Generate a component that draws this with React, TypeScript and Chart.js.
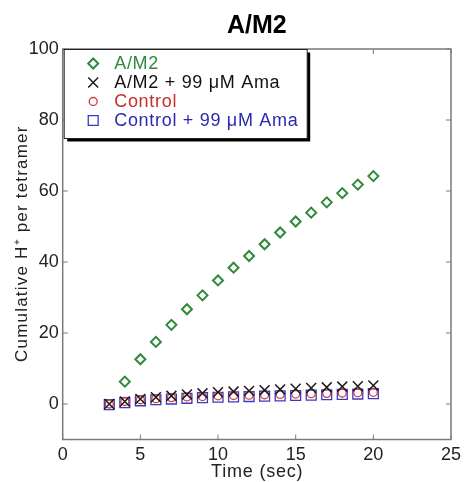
import React, { useEffect, useRef } from 'react';
import { Chart, registerables } from 'chart.js';

Chart.register(...registerables);

// ---- data ----
const timeAM2 = [4, 5, 6, 7, 8, 9, 10, 11, 12, 13, 14, 15, 16, 17, 18, 19, 20];
const am2 = [6.3, 12.6, 17.5, 22.3, 26.7, 30.6, 34.8, 38.4, 41.7, 45.0, 48.3, 51.4, 53.9, 56.8, 59.4, 61.8, 64.2];
const timeLow = [3, 4, 5, 6, 7, 8, 9, 10, 11, 12, 13, 14, 15, 16, 17, 18, 19, 20];
const am2Ama = [0.0, 0.7, 1.4, 1.9, 2.3, 2.7, 3.0, 3.3, 3.5, 3.7, 3.9, 4.1, 4.3, 4.5, 4.7, 4.9, 5.0, 5.2];
const control = [0.0, 0.7, 1.2, 1.5, 1.8, 2.0, 2.1, 2.3, 2.4, 2.5, 2.6, 2.7, 2.8, 2.9, 3.0, 3.1, 3.2, 3.3];
const controlAma = [-0.2, 0.4, 0.9, 1.2, 1.4, 1.6, 1.8, 1.9, 2.0, 2.1, 2.2, 2.3, 2.4, 2.5, 2.6, 2.7, 2.8, 2.9];
const xTicks = [0, 5, 10, 15, 20, 25];
const yTicks = [0, 20, 40, 60, 80, 100];
const seriesLabels = ['A/M2', 'A/M2 + 99 \u03BCM Ama', 'Control', 'Control + 99 \u03BCM Ama'];
const chartTitle = 'A/M2';
const xTitle = 'Time (sec)';
const yTitle = 'Cumulative H\u207A per tetramer';

const FONT = '"Liberation Sans", Arial, Helvetica, sans-serif';
const GREEN = '#2f8a3c';
const BLACK = '#1a1a1a';
const RED = '#d23c3c';
const BLUE = '#3a3ac0';
const TEXT_COLORS = [GREEN, '#111111', '#c4302a', '#2a2ab0'];

function drawMarker(ctx: CanvasRenderingContext2D, style: string, x: number, y: number, r: number, color: string, lw: number) {
  ctx.save();
  ctx.strokeStyle = color;
  ctx.lineWidth = lw;
  ctx.beginPath();
  if (style === 'rectRot') {
    ctx.moveTo(x - r, y);
    ctx.lineTo(x, y - r);
    ctx.lineTo(x + r, y);
    ctx.lineTo(x, y + r);
    ctx.closePath();
  } else if (style === 'crossRot') {
    const o = r * Math.SQRT1_2;
    ctx.moveTo(x - o, y - o);
    ctx.lineTo(x + o, y + o);
    ctx.moveTo(x - o, y + o);
    ctx.lineTo(x + o, y - o);
  } else if (style === 'circle') {
    ctx.arc(x, y, r, 0, Math.PI * 2);
  } else {
    const s = r * Math.SQRT1_2;
    ctx.rect(x - s, y - s, 2 * s, 2 * s);
  }
  ctx.stroke();
  ctx.restore();
}

const framePlugin = {
  id: 'frameTicks',
  beforeDatasetsDraw(chart: any) {
    const { ctx, chartArea } = chart;
    const { left, right, top, bottom } = chartArea;
    const xs = chart.scales.x;
    const ys = chart.scales.y;
    ctx.save();
    ctx.strokeStyle = '#7a7a7a';
    ctx.lineWidth = 1.5;
    ctx.strokeRect(left, top, right - left, bottom - top);
    ctx.lineWidth = 1;
    ctx.beginPath();
    const tl = 5;
    xTicks.forEach((v) => {
      const px = xs.getPixelForValue(v);
      ctx.moveTo(px, bottom);
      ctx.lineTo(px, bottom - tl);
      ctx.moveTo(px, top);
      ctx.lineTo(px, top + tl);
    });
    yTicks.forEach((v) => {
      const py = ys.getPixelForValue(v);
      ctx.moveTo(left, py);
      ctx.lineTo(left + tl, py);
      ctx.moveTo(right, py);
      ctx.lineTo(right - tl, py);
    });
    ctx.stroke();
    // chart title
    ctx.fillStyle = '#000';
    ctx.font = `bold 25px ${FONT}`;
    ctx.textAlign = 'center';
    ctx.textBaseline = 'middle';
    ctx.fillText(chartTitle, (left + right) / 2, 26);
    // x axis title
    ctx.fillStyle = '#222';
    ctx.font = `18px ${FONT}`;
    (ctx as any).letterSpacing = '0.8px';
    ctx.fillText(xTitle, (left + right) / 2 + 0.4, 472.5);
    // y axis title
    ctx.save();
    ctx.translate(22, (top + bottom) / 2);
    ctx.rotate(-Math.PI / 2);
    ctx.font = `17px ${FONT}`;
    (ctx as any).letterSpacing = '1.2px';
    ctx.fillText(yTitle, 0.6, 0);
    ctx.restore();
    ctx.restore();
  },
  afterDraw(chart: any) {
    const { ctx, chartArea } = chart;
    const x0 = chartArea.left + 1.5;
    const y0 = chartArea.top + 0.5;
    const w = 243;
    const h = 89;
    ctx.save();
    // shadow
    ctx.fillStyle = '#000';
    ctx.fillRect(x0 + 3, y0 + 3, w, h);
    ctx.fillStyle = '#fff';
    ctx.fillRect(x0, y0, w, h);
    ctx.strokeStyle = '#222';
    ctx.lineWidth = 1;
    ctx.strokeRect(x0, y0, w, h);
    const ds = chart.data.datasets;
    ctx.font = `18px ${FONT}`;
    (ctx as any).letterSpacing = '0.7px';
    ctx.textAlign = 'left';
    ctx.textBaseline = 'middle';
    ds.forEach((d: any, i: number) => {
      const cy = y0 + 14 + i * 19;
      drawMarker(ctx, d.pointStyle, x0 + 29, cy, d.pointRadius, d.borderColor, d.borderWidth);
      ctx.fillStyle = TEXT_COLORS[i];
      ctx.fillText(d.label, x0 + 50, cy + 1);
    });
    ctx.restore();
  },
};

export default function App() {
  const ref = useRef<HTMLCanvasElement | null>(null);
  useEffect(() => {
    if (!ref.current) return;
    Chart.defaults.font.family = FONT;
    const toPts = (xs: number[], ys: number[]) => xs.map((x, i) => ({ x, y: ys[i] }));
    const chart = new Chart(ref.current, {
      type: 'scatter',
      data: {
        datasets: [
          {
            label: seriesLabels[0],
            data: toPts(timeAM2, am2),
            pointStyle: 'rectRot',
            pointRadius: 5,
            borderColor: GREEN,
            backgroundColor: 'rgba(0,0,0,0)',
            borderWidth: 2,
          },
          {
            label: seriesLabels[1],
            data: toPts(timeLow, am2Ama),
            pointStyle: 'crossRot',
            pointRadius: 7,
            borderColor: BLACK,
            backgroundColor: 'rgba(0,0,0,0)',
            borderWidth: 1.5,
          },
          {
            label: seriesLabels[2],
            data: toPts(timeLow, control),
            pointStyle: 'circle',
            pointRadius: 4,
            borderColor: RED,
            backgroundColor: 'rgba(0,0,0,0)',
            borderWidth: 1.3,
          },
          {
            label: seriesLabels[3],
            data: toPts(timeLow, controlAma),
            pointStyle: 'rect',
            pointRadius: 7,
            borderColor: BLUE,
            backgroundColor: 'rgba(0,0,0,0)',
            borderWidth: 1.3,
          },
        ] as any,
      },
      options: {
        animation: false,
        responsive: false,
        maintainAspectRatio: false,
        layout: { padding: { top: 49, right: 10, left: 0, bottom: 0 } },
        plugins: {
          legend: { display: false },
          title: { display: false },
          tooltip: { enabled: false },
        },
        scales: {
          x: {
            type: 'linear',
            min: 0,
            max: 25,
            grid: { display: false, drawTicks: false },
            border: { display: false },
            afterBuildTicks: (s: any) => {
              s.ticks = xTicks.map((v) => ({ value: v }));
            },
            afterFit: (s: any) => {
              s.height = 42.5;
            },
            ticks: {
              color: '#222',
              font: { size: 18 },
              padding: 5,
              maxRotation: 0,
              autoSkip: false,
            },
            title: { display: false },
          },
          y: {
            type: 'linear',
            min: -10,
            max: 100,
            grid: { display: false, drawTicks: false },
            border: { display: false },
            afterBuildTicks: (s: any) => {
              s.ticks = yTicks.map((v) => ({ value: v }));
            },
            afterFit: (s: any) => {
              s.width = 62.7;
            },
            ticks: {
              color: '#222',
              font: { size: 18 },
              padding: 4,
              autoSkip: false,
            },
            title: { display: false },
          },
        },
      },
      plugins: [framePlugin],
    });
    return () => chart.destroy();
  }, []);
  return (
    <div style={{ position: 'fixed', left: 0, top: 0, width: 466, height: 482, background: '#fff' }}>
      <canvas ref={ref} width={466} height={482} style={{ display: 'block' }} />
    </div>
  );
}
